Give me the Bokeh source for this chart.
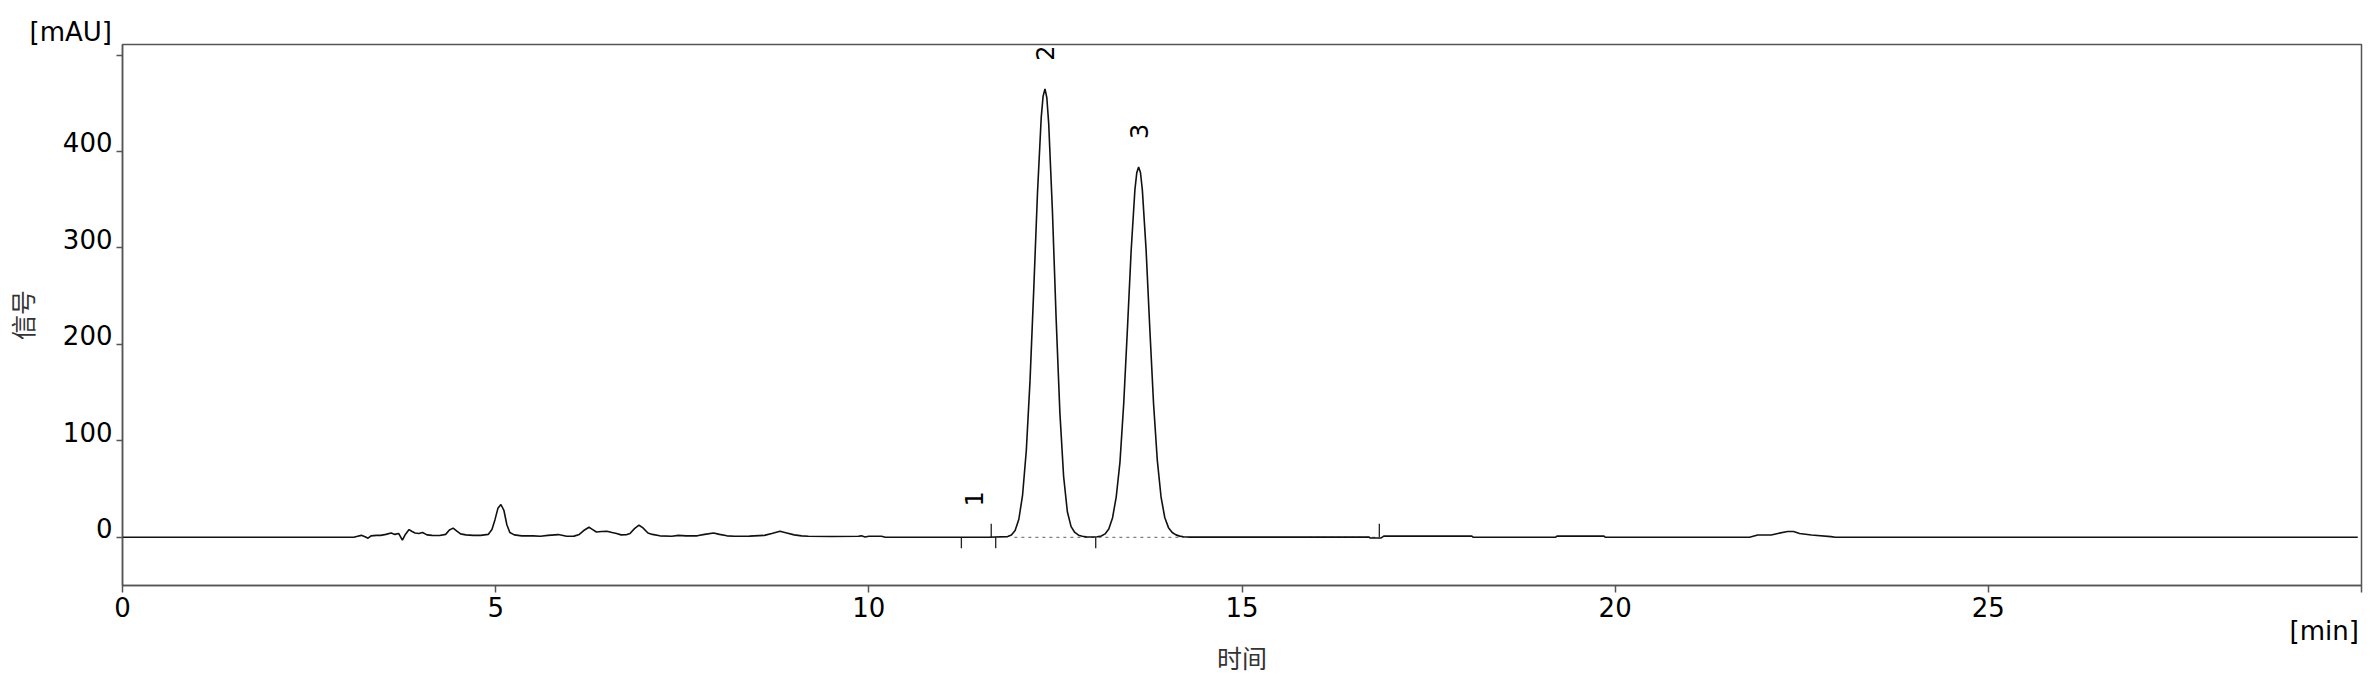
import math
from bokeh.plotting import figure
from bokeh.models import Range1d, Label, FixedTicker, LinearAxis
from bokeh.embed import file_html
from bokeh.resources import INLINE

# ---- data ----
t_minor = [0.00, 3.10, 3.15, 3.20, 3.25, 3.29, 3.33, 3.40, 3.46, 3.53, 3.60, 3.65, 3.70, 3.75, 3.79,
           3.84, 3.88, 3.92, 3.97, 4.02, 4.08, 4.15, 4.25, 4.33, 4.38, 4.43, 4.48, 4.53, 4.60, 4.70,
           4.80, 4.90, 4.95, 4.99, 5.03, 5.07, 5.11, 5.15, 5.19, 5.25, 5.35, 5.50, 5.60, 5.70, 5.84,
           5.95, 6.05, 6.12, 6.18, 6.25, 6.30, 6.35, 6.42, 6.49, 6.56, 6.62, 6.68, 6.75, 6.80, 6.86,
           6.92, 6.97, 7.04, 7.10, 7.20, 7.36, 7.45, 7.55, 7.70, 7.80, 7.92, 8.00, 8.10, 8.20, 8.40,
           8.60, 8.70, 8.81, 8.90, 9.00, 9.10, 9.19, 9.50, 9.86, 9.90, 9.95, 10.00, 10.17, 10.22, 11.00]
v_minor = [0.0, 0.0, 1.0, 2.0, 0.5, -1.0, 1.5, 2.0, 2.0, 3.0, 4.5, 3.0, 4.0, -3.0, 3.0,
           8.0, 6.0, 4.5, 4.0, 5.0, 2.5, 2.0, 1.8, 3.0, 7.5, 9.5, 6.5, 3.5, 2.5, 2.0,
           2.0, 3.0, 8.0, 18.0, 30.0, 34.0, 28.0, 13.0, 5.0, 2.5, 1.5, 1.5, 1.0, 2.0, 2.8,
           1.0, 1.2, 3.0, 7.0, 10.4, 8.0, 5.5, 6.0, 6.3, 5.0, 4.0, 2.5, 2.7, 4.0, 9.0,
           12.5, 10.0, 4.5, 3.0, 1.5, 1.0, 2.0, 1.5, 1.5, 3.0, 4.5, 3.0, 1.5, 1.0, 1.2,
           2.0, 4.0, 6.3, 4.5, 2.5, 1.5, 1.0, 0.8, 1.0, 1.5, 0.3, 1.0, 1.0, 0.0, 0.0]

t_main = [11.60, 11.86, 11.91, 11.96, 12.01, 12.06, 12.11, 12.16, 12.21, 12.26, 12.31, 12.335, 12.36,
          12.385, 12.41, 12.46, 12.51, 12.56, 12.61, 12.66, 12.71, 12.76, 12.81, 12.86, 12.91, 12.96,
          13.01, 13.06, 13.115, 13.165, 13.215, 13.265, 13.315, 13.365, 13.415, 13.465, 13.515, 13.565,
          13.59, 13.615, 13.64, 13.665, 13.715, 13.765, 13.815, 13.865, 13.915, 13.965, 14.015, 14.065,
          14.115, 14.165, 14.215, 14.30]
v_main = [0.0, 0.7, 2.3, 7.0, 18.7, 43.8, 90.0, 162.7, 257.6, 357.6, 435.5, 457.4, 465.0,
          455.8, 429.0, 338.0, 226.0, 129.0, 63.0, 26.5, 11.0, 5.0, 2.2, 1.0, 0.4, 0.3,
          0.3, 0.5, 1.3, 3.5, 8.5, 20.0, 42.0, 78.0, 138.4, 216.3, 297.6, 360.3,
          377.9, 384.0, 378.0, 360.0, 298.0, 216.0, 138.4, 80.0, 42.0, 20.5, 10.0, 5.0,
          2.5, 1.2, 0.5, 0.2]

t_late = [14.60, 15.90, 16.70, 16.72, 16.86, 16.90, 18.08, 18.10, 19.20, 19.22, 19.85, 19.87,
          21.80, 21.91, 22.09, 22.18, 22.31, 22.39, 22.47, 22.63, 22.89, 22.95, 29.95]
v_late = [0.2, 0.2, 0.3, -0.8, -0.8, 1.2, 1.2, 0.0, 0.0, 1.2, 1.2, 0.0,
          0.0, 2.3, 2.3, 4.0, 6.0, 6.0, 4.0, 2.3, 0.7, 0.0, 0.0]

peak_ids = ["1", "2", "3"]
peak_rt = [11.41, 12.36, 13.615]
peak_height = [3.0, 465.0, 384.0]

delim_above_t = [11.64, 16.84]
delim_below_t = [11.24, 11.70, 13.04]
baseline_dash_start = [11.95, 15.90]
baseline_dash_end = [14.23, 16.80]

x_ticks = [0, 5, 10, 15, 20, 25, 30]
x_tick_labels = ["0", "5", "10", "15", "20", "25", ""]
x_unit_tick = 30
x_unit = "[min]"
y_ticks = [0, 100, 200, 300, 400, 500]
y_tick_labels = ["0", "100", "200", "300", "400", ""]
y_unit = "[mAU]"
x_title = "时间"
y_title = "信号"

X_START, X_END = 0, 30
Y_START, Y_END = -50, 511

# ---- styles ----
FRAME = "#555555"
TRACE = "#111111"
FONT = "DejaVu Sans"
CJK = "Noto Sans CJK SC"
FS = "26px"
Y_LABEL_LIFT = 9.5      # labels sit on their tick, as in the source software
X_UNIT_SHIFT = 0.5      # "[min]" is right-aligned at the axis end

time_min = t_minor + t_main + t_late
signal_mau = v_minor + v_main + v_late

p = figure(width=2368, height=678,
           x_range=Range1d(X_START, X_END), y_range=Range1d(Y_START, Y_END),
           output_backend="svg", toolbar_location=None,
           min_border_left=121, min_border_right=7, min_border_top=44, min_border_bottom=93)
p.grid.visible = False
p.background_fill_color = "white"
p.border_fill_color = "white"
p.outline_line_color = FRAME
p.outline_line_width = 1.5

# y unit shown at the top of the axis, like the source software
p.title.text = y_unit
p.title.align = "left"
p.title.offset = -93
p.title.standoff = -4
p.title.text_font = FONT
p.title.text_font_size = FS
p.title.text_font_style = "normal"
p.title.text_color = "#000000"

p.extra_y_ranges = {"ylab": Range1d(Y_START - Y_LABEL_LIFT, Y_END - Y_LABEL_LIFT)}
p.extra_x_ranges = {"xunit": Range1d(X_START + X_UNIT_SHIFT, X_END + X_UNIT_SHIFT)}

# main x axis: ticks and numbers
xa = p.xaxis[0]
xa.ticker = FixedTicker(ticks=x_ticks)
xa.major_label_overrides = {t: s for t, s in zip(x_ticks, x_tick_labels)}
xa.major_label_text_font = FONT
xa.major_label_text_font_size = FS
xa.major_label_text_color = "#000000"
xa.major_label_standoff = 4
xa.major_tick_out = 7

# main y axis: tick marks only
ya = p.yaxis[0]
ya.ticker = FixedTicker(ticks=y_ticks)
ya.major_label_overrides = {t: "" for t in y_ticks}
ya.major_label_standoff = 0
ya.major_tick_out = 6

for ax in (xa, ya):
    ax.major_tick_in = 0
    ax.minor_tick_line_color = None
    ax.major_tick_line_color = FRAME
    ax.major_tick_line_width = 1.5
    ax.axis_line_color = FRAME
    ax.axis_line_width = 1.5

# y tick labels axis (labels sitting on the ticks) + y title
ylab = LinearAxis(y_range_name="ylab", ticker=FixedTicker(ticks=y_ticks),
                  major_label_overrides={t: s for t, s in zip(y_ticks, y_tick_labels)})
ylab.axis_line_color = None
ylab.major_tick_line_color = None
ylab.minor_tick_line_color = None
ylab.major_tick_out = 0
ylab.major_tick_in = 0
ylab.major_label_standoff = 4
ylab.major_label_text_font = FONT
ylab.major_label_text_font_size = FS
ylab.major_label_text_color = "#000000"
ylab.axis_label = y_title
ylab.axis_label_text_font = CJK
ylab.axis_label_text_font_size = "25px"
ylab.axis_label_text_font_style = "normal"
ylab.axis_label_text_color = "#333333"
ylab.axis_label_standoff = 20
p.add_layout(ylab, "left")

# x unit axis ("[min]") + x title
xunit = LinearAxis(x_range_name="xunit", ticker=FixedTicker(ticks=[x_unit_tick]),
                   major_label_overrides={x_unit_tick: x_unit})
xunit.axis_line_color = None
xunit.major_tick_line_color = None
xunit.minor_tick_line_color = None
xunit.major_tick_out = 0
xunit.major_tick_in = 0
xunit.major_label_standoff = -4
xunit.major_label_text_font = FONT
xunit.major_label_text_font_size = FS
xunit.major_label_text_color = "#000000"
xunit.axis_label = x_title
xunit.axis_label_text_font = CJK
xunit.axis_label_text_font_size = "25px"
xunit.axis_label_text_font_style = "normal"
xunit.axis_label_text_color = "#333333"
xunit.axis_label_standoff = -10
p.add_layout(xunit, "below")

# integration baselines and delimiters
n_d = len(baseline_dash_start)
p.segment(x0=baseline_dash_start, y0=[0] * n_d, x1=baseline_dash_end, y1=[0] * n_d,
          line_color="#808080", line_width=1.2, line_dash="3 4")
p.segment(x0=delim_above_t, y0=[0] * len(delim_above_t), x1=delim_above_t,
          y1=[14] * len(delim_above_t), line_color="#222222", line_width=1.3)
p.segment(x0=delim_below_t, y0=[0] * len(delim_below_t), x1=delim_below_t,
          y1=[-11.5] * len(delim_below_t), line_color="#222222", line_width=1.3)

# trace
p.line(time_min, signal_mau, line_color=TRACE, line_width=1.6)

# peak labels
for pid, rt, h in zip(peak_ids, peak_rt, peak_height):
    p.add_layout(Label(x=rt, y=h, y_offset=28, text=pid, angle=math.pi / 2,
                       text_align="left", text_baseline="middle",
                       text_font=FONT, text_font_size="24px", text_color="#000000"))

open("out.html", "w").write(file_html(p, INLINE))
